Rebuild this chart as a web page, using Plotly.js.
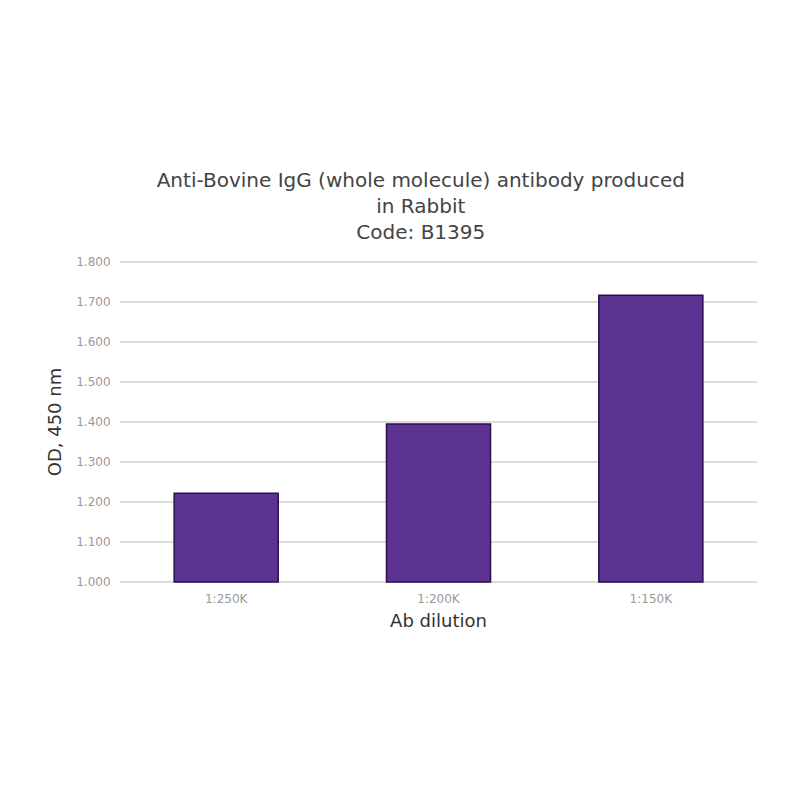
<!DOCTYPE html>
<html>
<head>
<meta charset="utf-8">
<script src="https://cdn.plot.ly/plotly-3.0.1.min.js"></script>
<style>html,body{margin:0;padding:0;background:#fff;}#chart{width:800px;height:800px;}</style>
</head>
<body>
<div id="chart"></div>
<script>
var categories = ["1:250K", "1:200K", "1:150K"];
var odValues = [1.222, 1.395, 1.717];
var yTickValues = [1.0, 1.1, 1.2, 1.3, 1.4, 1.5, 1.6, 1.7, 1.8];
var yTickLabels = ["1.000", "1.100", "1.200", "1.300", "1.400", "1.500", "1.600", "1.700", "1.800"];
var baseline = 1.0;

var trace = {
  type: "bar",
  x: categories,
  y: odValues.map(function(v){ return v - baseline; }),
  base: baseline,
  marker: {color: "#5c3292", line: {color: "#2b0f4f", width: 1.5}},
  width: 0.49,
  hoverinfo: "x+y"
};

var layout = {
  width: 800, height: 800,
  paper_bgcolor: "#ffffff", plot_bgcolor: "#ffffff",
  margin: {l: 120, r: 43, t: 259, b: 215},
  font: {family: "DejaVu Sans, Verdana, sans-serif", color: "#444"},
  title: {
    text: "Anti-Bovine IgG (whole molecule) antibody produced<br>in Rabbit<br>Code: B1395",
    x: 0.526, xref: "container", xanchor: "center",
    y: 1 - 187/800, yref: "container", yanchor: "top",
    font: {size: 20, color: "#444", family: "DejaVu Sans, Verdana, sans-serif"}
  },
  xaxis: {
    type: "category",
    showline: false, showgrid: false, zeroline: false,
    ticks: "outside", tickcolor: "rgba(0,0,0,0)", ticklen: 3,
    tickfont: {size: 12, color: "#9a9a9a"},
    title: {text: "Ab dilution", font: {size: 18, color: "#333"}, standoff: 8}
  },
  yaxis: {
    range: [0.9925, 1.8075],
    tickvals: yTickValues,
    ticktext: yTickLabels,
    tickfont: {size: 12, color: "#9a9a9a"},
    showgrid: true, gridcolor: "#dcdcdc", gridwidth: 2,
    zeroline: false, showline: false,
    ticks: "outside", tickcolor: "rgba(0,0,0,0)", ticklen: 6,
    title: {text: "OD, 450 nm", font: {size: 18, color: "#333"}, standoff: 9}
  },
  showlegend: false
};

Plotly.newPlot("chart", [trace], layout, {displayModeBar: false, staticPlot: true});
</script>
</body>
</html>
